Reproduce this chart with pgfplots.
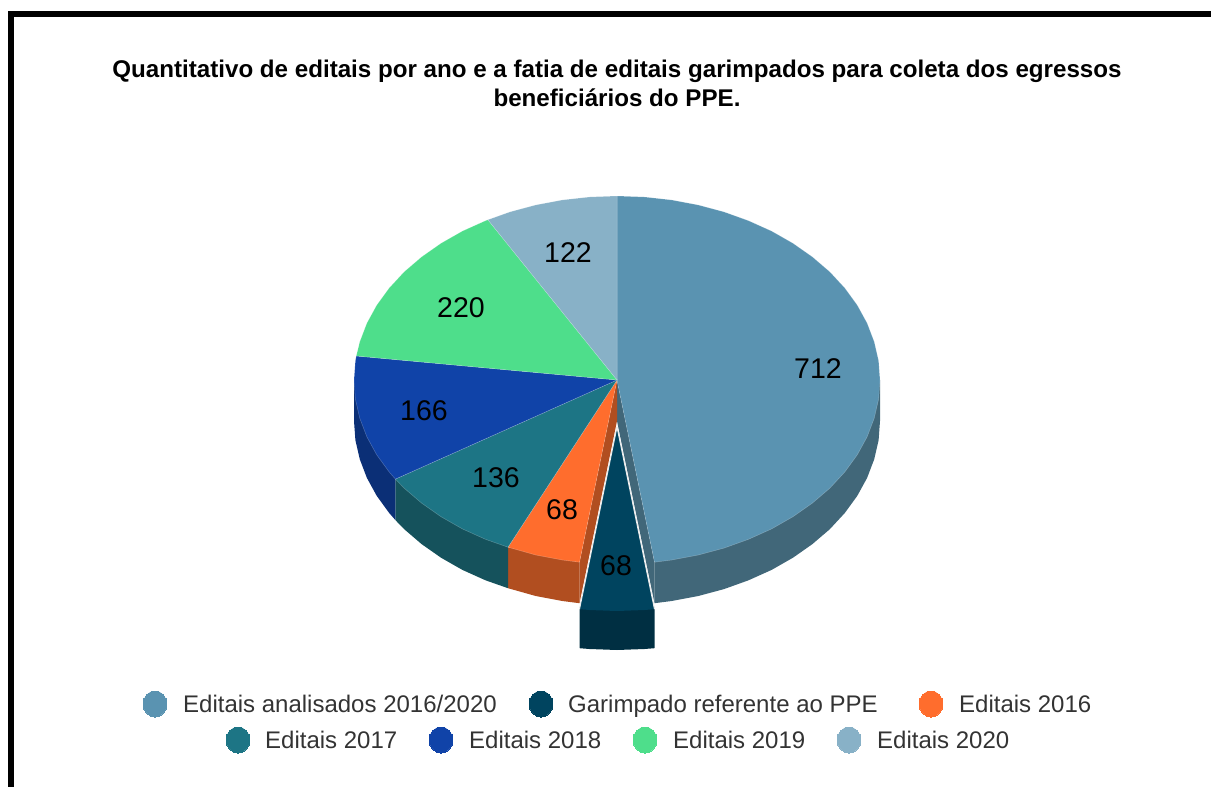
\documentclass[border=0pt]{standalone}
\usepackage{fontspec}
\setmainfont{Liberation Sans}
\usepackage{pgfplots}
\pgfplotsset{compat=1.18}

\definecolor{c712}{HTML}{5A93B1}
\definecolor{c712s}{HTML}{416779}
\definecolor{cppe}{HTML}{00445F}
\definecolor{cppes}{HTML}{002F42}
\definecolor{c16}{HTML}{FF6D2D}
\definecolor{c16s}{HTML}{B14E20}
\definecolor{c17}{HTML}{1D7585}
\definecolor{c17s}{HTML}{15525C}
\definecolor{c18}{HTML}{1043A8}
\definecolor{c18s}{HTML}{0B2F76}
\definecolor{c19}{HTML}{4EDE8B}
\definecolor{c20}{HTML}{88B1C7}

\newcommand{\datafont}{\fontsize{28.5}{30}\selectfont}
\newcommand{\legfont}{\fontsize{24}{27}\selectfont\color[HTML]{333333}}

\begin{document}
\begin{tikzpicture}
% hide axis leaves no box of its own, so fix the page size here
\useasboundingbox (0,0) rectangle (1211pt,787pt);
\begin{axis}[
    at={(0,0)},
    anchor=south west,
    scale only axis,
    width=1211pt,
    height=787pt,
    xmin=0, xmax=1211,
    ymin=0, ymax=787,
    y dir=reverse,
    hide axis,
    slice/.style={fill=#1, draw=white, draw opacity=0.25, line width=0.5pt},
    side/.style={fill=#1, draw=none},
    key/.style={only marks, mark=*, mark size=13pt, mark options={fill=#1, draw=#1, line width=0pt, xscale=0.92}},
]

% outer frame
\addplot[black, line width=6pt] coordinates {(11,790) (11,14) (1214,14)};

% inner cut faces behind the pulled slice
\addplot[side=c712s] coordinates {(617,380) (654.5,562.2) (654.5,603.2) (617,421)} -- cycle;
\addplot[side=c16s] coordinates {(617,380) (579.5,562.2) (579.5,603.2) (617,421)} -- cycle;

% outer side walls
\addplot[side=c712s] coordinates {
    (880,380) (654.5,562.2) (654.5,603.2) (671.7,601) (698.3,596) (724,589.1) (748.5,580.3)
    (771.6,569.9) (793,557.7) (812.4,544.1) (829.8,529.2) (844.8,513) (857.3,495.8)
    (867.1,477.9) (874.2,459.3) (878.6,440.2) (880,421)} -- cycle;
\addplot[side=c16s] coordinates {
    (508,547.2) (579.5,562.2) (579.5,603.2) (562.3,601) (535.7,596) (508,588.2)} -- cycle;
\addplot[side=c17s] coordinates {
    (395.4,479.1) (508,547.2) (508,588.2) (485.5,580.3) (462.4,569.9) (441,557.7)
    (421.6,544.1) (404.2,529.2) (395.4,520.1)} -- cycle;
\addplot[side=c18s] coordinates {
    (354,380) (395.4,479.1) (395.4,520.1) (389.2,513) (376.7,495.8) (366.9,477.9)
    (359.8,459.3) (355.4,440.2) (354,421)} -- cycle;

% top faces
\addplot[slice=c712] coordinates {
    (617,380) (617,196) (644.5,197) (671.7,200) (698.3,205) (724,211.9) (748.5,220.7)
    (771.6,231.1) (793,243.3) (812.4,256.9) (829.8,271.8) (844.8,288) (857.3,305.2)
    (867.1,323.1) (874.2,341.7) (878.6,360.8) (880,380) (878.6,399.2) (874.2,418.3)
    (867.1,436.9) (857.3,454.8) (844.8,472) (829.8,488.2) (812.4,503.1) (793,516.7)
    (771.6,528.9) (748.5,539.3) (724,548.1) (698.3,555) (671.7,560) (654.5,562.2)} -- cycle;
\addplot[slice=c16] coordinates {
    (617,380) (579.5,562.2) (562.3,560) (535.7,555) (508,547.2)} -- cycle;
\addplot[slice=c17] coordinates {
    (617,380) (508,547.2) (485.5,539.3) (462.4,528.9) (441,516.7) (421.6,503.1)
    (404.2,488.2) (395.4,479.1)} -- cycle;
\addplot[slice=c18] coordinates {
    (617,380) (395.4,479.1) (389.2,472) (376.7,454.8) (366.9,436.9) (359.8,418.3)
    (355.4,399.2) (354,380) (355.4,360.8) (356.3,356)} -- cycle;
\addplot[slice=c19] coordinates {
    (617,380) (356.3,356) (359.8,341.7) (366.9,323.1) (376.7,305.2) (389.2,288)
    (404.2,271.8) (421.6,256.9) (441,243.3) (462.4,231.1) (485.5,220.7) (487.9,219.8)} -- cycle;
\addplot[slice=c20] coordinates {
    (617,380) (487.9,219.8) (510,211.9) (535.7,205) (562.3,200) (589.5,197) (617,196)} -- cycle;

% pulled slice
\addplot[side=cppes] coordinates {
    (579.5,609.2) (654.5,609.2) (654.5,648.2) (644.5,649) (617,650) (589.5,649) (579.5,648.2)} -- cycle;
\addplot[side=cppe] coordinates {
    (617,427) (654.5,609.2) (644.5,610) (617,611) (589.5,610) (579.5,609.2)} -- cycle;
\addplot[white!85!gray, line width=1pt, line join=round] coordinates {(579.5,609.2) (617,427) (654.5,609.2)};

% value labels
\node[font=\datafont] at (axis cs:818,369) {712};
\node[font=\datafont] at (axis cs:616,566) {68};
\node[font=\datafont] at (axis cs:562,510) {68};
\node[font=\datafont] at (axis cs:496,478) {136};
\node[font=\datafont] at (axis cs:424,411) {166};
\node[font=\datafont] at (axis cs:461,308) {220};
\node[font=\datafont] at (axis cs:568,253) {122};

% title
\node[font=\fontsize{24.15}{29}\selectfont\bfseries, align=center, anchor=base, inner sep=0pt]
    at (axis cs:617,106) {Quantitativo de editais por ano e a fatia de editais garimpados para coleta dos egressos\\beneficiários do PPE.};

% legend
\addplot[key=c712] coordinates {(155,704)};
\addplot[key=cppe] coordinates {(541,704)};
\addplot[key=c16] coordinates {(931,704)};
\addplot[key=c17] coordinates {(238,740)};
\addplot[key=c18] coordinates {(441,740)};
\addplot[key=c19] coordinates {(645,740)};
\addplot[key=c20] coordinates {(849,740)};
\node[font=\legfont, anchor=base west, inner sep=0pt] at (axis cs:183,712) {Editais analisados 2016/2020};
\node[font=\legfont, anchor=base west, inner sep=0pt] at (axis cs:568,712) {Garimpado referente ao PPE};
\node[font=\legfont, anchor=base west, inner sep=0pt] at (axis cs:959,712) {Editais 2016};
\node[font=\legfont, anchor=base west, inner sep=0pt] at (axis cs:265,748) {Editais 2017};
\node[font=\legfont, anchor=base west, inner sep=0pt] at (axis cs:469,748) {Editais 2018};
\node[font=\legfont, anchor=base west, inner sep=0pt] at (axis cs:673,748) {Editais 2019};
\node[font=\legfont, anchor=base west, inner sep=0pt] at (axis cs:877,748) {Editais 2020};
\end{axis}
\end{tikzpicture}
\end{document}
